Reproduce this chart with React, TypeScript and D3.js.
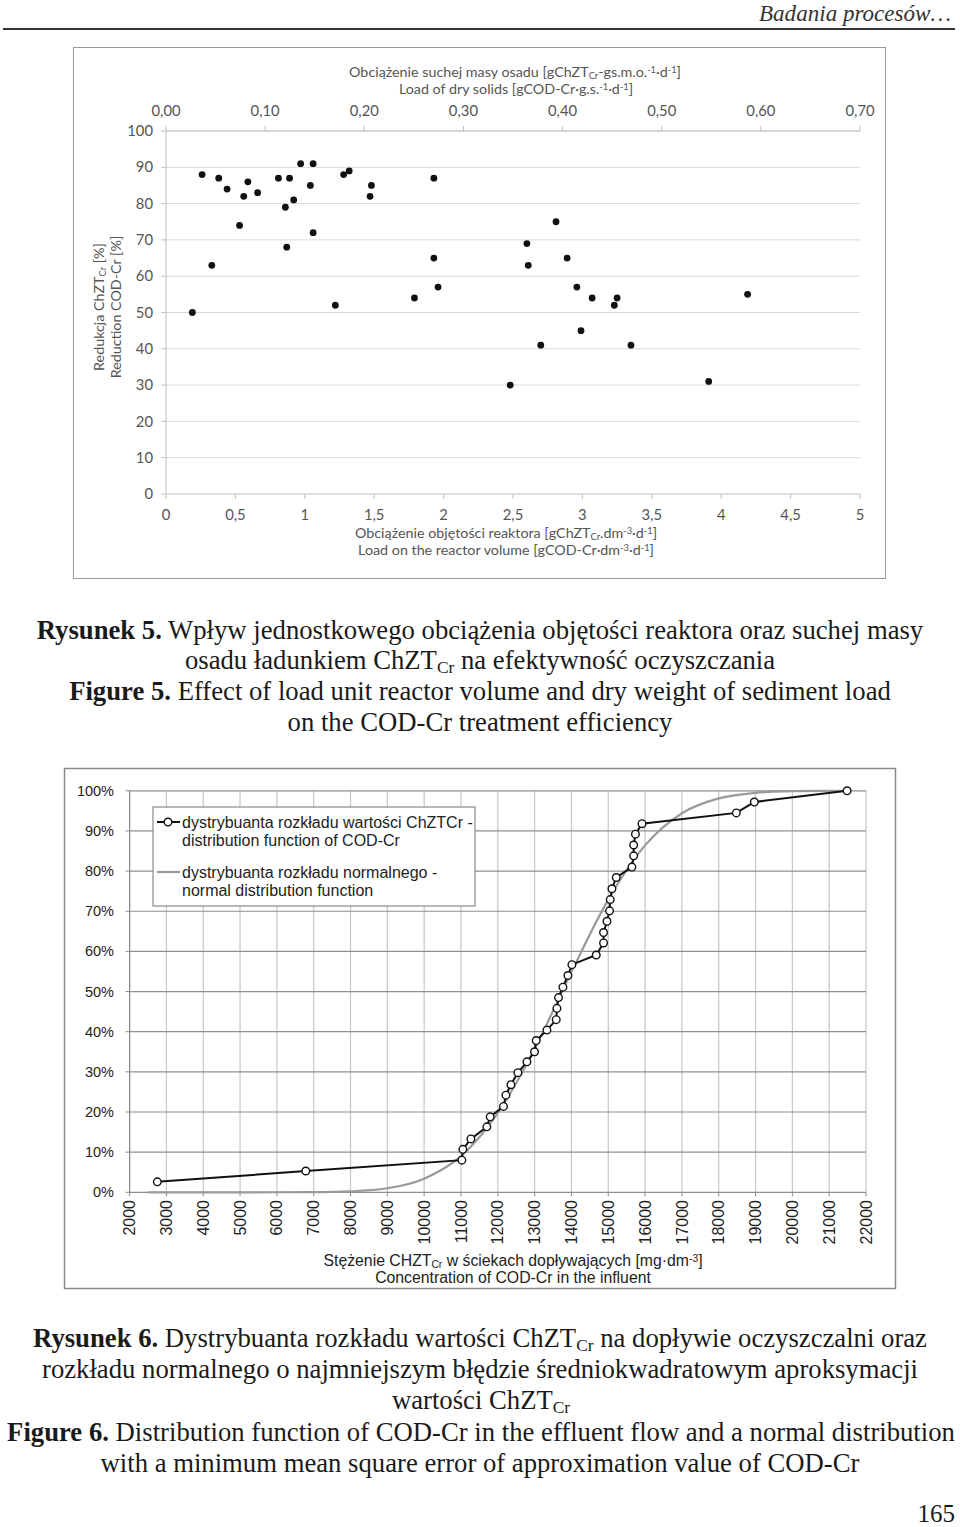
import React from 'react';
import * as d3 from 'd3';

// ---------- Figure 5 data ----------
const volumeLoad = [0.19, 0.26, 0.33, 0.38, 0.44, 0.53, 0.56, 0.59, 0.66, 0.81, 0.86, 0.87, 0.89, 0.92, 0.97, 1.04, 1.06, 1.06, 1.22, 1.28, 1.32, 1.47, 1.48, 1.79, 1.93, 1.93, 1.96, 2.48, 2.60, 2.61, 2.70, 2.81, 2.89, 2.96, 2.99, 3.07, 3.23, 3.25, 3.35, 3.91, 4.19];
const reduction = [50, 88, 63, 87, 84, 74, 82, 86, 83, 87, 79, 68, 87, 81, 91, 85, 91, 72, 52, 88, 89, 82, 85, 54, 87, 65, 57, 30, 69, 63, 41, 75, 65, 57, 45, 54, 52, 54, 41, 31, 55];
const volumeTicks = [0, 0.5, 1, 1.5, 2, 2.5, 3, 3.5, 4, 4.5, 5];
const solidsTicks = [0, 0.1, 0.2, 0.3, 0.4, 0.5, 0.6, 0.7];
const reductionTicks = [0, 10, 20, 30, 40, 50, 60, 70, 80, 90, 100];

// ---------- Figure 6 data ----------
const concentration = [2753, 6785, 11024, 11051, 11269, 11703, 11793, 12155, 12220, 12356, 12546, 12791, 12997, 13043, 13334, 13587, 13606, 13649, 13769, 13905, 14013, 14674, 14872, 14872, 14965, 15035, 15054, 15100, 15217, 15643, 15690, 15690, 15739, 15916, 18478, 18967, 21486];
const empiricalCdf = [2.6, 5.3, 8.0, 10.7, 13.3, 16.3, 18.8, 21.4, 24.2, 26.8, 29.8, 32.5, 35.0, 37.8, 40.4, 43.0, 45.8, 48.5, 51.1, 54.0, 56.7, 59.1, 62.1, 64.7, 67.5, 70.1, 72.9, 75.6, 78.4, 81.0, 83.8, 86.5, 89.2, 91.8, 94.5, 97.2, 100];
const normalX = [2500, 5000, 7000, 8000, 9000, 10000, 11000, 12000, 13000, 14000, 15000, 16000, 17000, 18000, 19000, 20000, 21000, 21486];
const normalCdf = [0, 0, 0.05, 0.25, 1.0, 3.4, 9.0, 19.7, 35.7, 54.9, 72.9, 86.4, 94.4, 98.1, 99.5, 99.9, 100, 100];
const concTicks = [2000, 3000, 4000, 5000, 6000, 7000, 8000, 9000, 10000, 11000, 12000, 13000, 14000, 15000, 16000, 17000, 18000, 19000, 20000, 21000, 22000];
const pctTicks = [0, 10, 20, 30, 40, 50, 60, 70, 80, 90, 100];

type Part = [string, ('sub' | 'sup' | 'b')?];

function Rich({ parts, fs, ...rest }: { parts: Part[]; fs: number; [k: string]: any }) {
  return (
    <text fontSize={fs} {...rest}>
      {parts.map(([t, k], i) =>
        k === 'sub' ? (
          <tspan key={i} fontSize={fs * 0.65} baselineShift="-22%">{t}</tspan>
        ) : k === 'sup' ? (
          <tspan key={i} fontSize={fs * 0.65} baselineShift="45%">{t}</tspan>
        ) : k === 'b' ? (
          <tspan key={i} fontWeight="bold">{t}</tspan>
        ) : (
          <tspan key={i}>{t}</tspan>
        )
      )}
    </text>
  );
}

const SERIF = '"Liberation Serif", "Times New Roman", serif';
const CAL = 'Lato, "Open Sans", sans-serif';
const ARIAL = '"Liberation Sans", Arial, sans-serif';

export default function App() {
  // Figure 5 scales
  const xV = d3.scaleLinear().domain([0, 5]).range([166, 860]);
  const xS = d3.scaleLinear().domain([0, 0.7]).range([166, 860]);
  const yR = d3.scaleLinear().domain([0, 100]).range([494, 131]);
  const fmtV = (v: number) => String(v).replace('.', ',');
  const fmtS = (v: number) => v.toFixed(2).replace('.', ',');

  // Figure 6 scales
  const xC = d3.scaleLinear().domain([2000, 22000]).range([129.6, 866]);
  const yP = d3.scaleLinear().domain([0, 100]).range([1192.3, 790.8]);
  const empLine = d3.line<number>().x((_, i) => xC(concentration[i])).y((d) => yP(d));
  const normLine = d3
    .line<number>()
    .x((_, i) => xC(normalX[i]))
    .y((d) => yP(d))
    .curve(d3.curveMonotoneX);

  const txt5 = '#555';
  const capFill = '#1a1a1a';
  const capFs = 26.7;
  const tf = 14.3; // top chart title font
  const tk = 14.8; // top chart tick font

  return (
    <svg
      width={960}
      height={1527}
      style={{ position: 'absolute', left: 0, top: 0, display: 'block', background: '#fff' }}
    >
      <rect x={0} y={0} width={960} height={1527} fill="#fff" />
      {/* header */}
      <text x={951} y={21} textAnchor="end" fontFamily={SERIF} fontStyle="italic" fontSize={23} fill="#333"
        textLength={192} lengthAdjust="spacingAndGlyphs">Badania procesów…</text>
      <line x1={3} x2={955} y1={29} y2={29} stroke="#333" strokeWidth={2} />

      {/* ================= Figure 5 ================= */}
      <rect x={73.5} y={47.5} width={812} height={531} fill="none" stroke="#9a9a9a" strokeWidth={1} />
      {reductionTicks.filter((t) => t > 0).map((t) => (
        <line key={'g' + t} x1={166} x2={860} y1={yR(t)} y2={yR(t)} stroke="#d9d9d9" strokeWidth={1} />
      ))}
      <line x1={166} x2={166} y1={yR(100)} y2={yR(0)} stroke="#bfbfbf" />
      <line x1={166} x2={860} y1={yR(0)} y2={yR(0)} stroke="#bfbfbf" />
      <line x1={166} x2={860} y1={yR(100)} y2={yR(100)} stroke="#bfbfbf" />
      {reductionTicks.map((t) => (
        <g key={'yl' + t}>
          <line x1={161} x2={166} y1={yR(t)} y2={yR(t)} stroke="#bfbfbf" />
          <text x={153} y={yR(t)} dy="0.35em" textAnchor="end" fontFamily={CAL} fontSize={tk} fill={txt5}>{t}</text>
        </g>
      ))}
      {volumeTicks.map((t) => (
        <g key={'xv' + t}>
          <line x1={xV(t)} x2={xV(t)} y1={494} y2={499} stroke="#bfbfbf" />
          <text x={xV(t)} y={515} dy="0.35em" textAnchor="middle" fontFamily={CAL} fontSize={tk} fill={txt5}>{fmtV(t)}</text>
        </g>
      ))}
      {solidsTicks.map((t) => (
        <g key={'xs' + t}>
          <line x1={xS(t)} x2={xS(t)} y1={126} y2={131} stroke="#bfbfbf" />
          <text x={xS(t)} y={111} dy="0.35em" textAnchor="middle" fontFamily={CAL} fontSize={tk} fill={txt5}>{fmtS(t)}</text>
        </g>
      ))}
      {volumeLoad.map((v, i) => (
        <circle key={'p' + i} cx={xV(v)} cy={yR(reduction[i])} r={3.4} fill="#111" />
      ))}
      <Rich x={515} y={76.5} textAnchor="middle" fontFamily={CAL} fs={tf} fill={txt5}
        parts={[['Obciążenie suchej masy osadu [gChZT'], ['Cr', 'sub'], ['-gs.m.o.'], ['-1', 'sup'], ['·d'], ['-1', 'sup'], [']']]} />
      <Rich x={516} y={93.5} textAnchor="middle" fontFamily={CAL} fs={tf} fill={txt5}
        parts={[['Load of dry solids [gCOD-Cr·g.s.'], ['-1', 'sup'], ['·d'], ['-1', 'sup'], [']']]} />
      <Rich x={506} y={538} textAnchor="middle" fontFamily={CAL} fs={tf} fill={txt5}
        parts={[['Obciążenie objętości reaktora [gChZT'], ['Cr', 'sub'], ['.dm'], ['-3', 'sup'], ['·d'], ['-1', 'sup'], [']']]} />
      <Rich x={506} y={555} textAnchor="middle" fontFamily={CAL} fs={tf} fill={txt5}
        parts={[['Load on the reactor volume [gCOD-Cr·dm'], ['-3', 'sup'], ['·d'], ['-1', 'sup'], [']']]} />
      <Rich transform="translate(104,307) rotate(-90)" x={0} y={0} textAnchor="middle" fontFamily={CAL} fs={tf} fill={txt5}
        parts={[['Redukcja ChZT'], ['Cr', 'sub'], [' [%]']]} />
      <Rich transform="translate(121,307) rotate(-90)" x={0} y={0} textAnchor="middle" fontFamily={CAL} fs={tf} fill={txt5}
        parts={[['Reduction COD-Cr [%]']]} />

      {/* caption 5 */}
      <g fontFamily={SERIF} fill={capFill}>
        <Rich x={480} y={639} textAnchor="middle" fs={capFs}
          parts={[['Rysunek 5.', 'b'], [' Wpływ jednostkowego obciążenia objętości reaktora oraz suchej masy']]} />
        <Rich x={480} y={669} textAnchor="middle" fs={capFs}
          parts={[['osadu ładunkiem ChZT'], ['Cr', 'sub'], [' na efektywność oczyszczania']]} />
        <Rich x={480} y={700} textAnchor="middle" fs={capFs}
          parts={[['Figure 5.', 'b'], [' Effect of load unit reactor volume and dry weight of sediment load']]} />
        <Rich x={480} y={731} textAnchor="middle" fs={capFs}
          parts={[['on the COD-Cr treatment efficiency']]} />
      </g>

      {/* ================= Figure 6 ================= */}
      <rect x={64.5} y={768.5} width={831} height={520} fill="none" stroke="#8a8a8a" strokeWidth={1.5} />
      {concTicks.map((t) => (
        <line key={'vg' + t} x1={xC(t)} x2={xC(t)} y1={yP(100)} y2={yP(0)} stroke="#c6c6c6" strokeWidth={1.2} />
      ))}
      {pctTicks.map((t) => (
        <line key={'hg' + t} x1={xC(2000)} x2={xC(22000)} y1={yP(t)} y2={yP(t)} stroke="#8f8f8f" strokeWidth={1.2} />
      ))}
      <line x1={xC(2000)} x2={xC(2000)} y1={yP(100)} y2={yP(0)} stroke="#8a8a8a" strokeWidth={1.2} />
      {pctTicks.map((t) => (
        <g key={'pl' + t}>
          <line x1={xC(2000) - 4} x2={xC(2000)} y1={yP(t)} y2={yP(t)} stroke="#8a8a8a" />
          <text x={114} y={yP(t)} dy="0.35em" textAnchor="end" fontFamily={ARIAL} fontSize={14.5} fill="#222">{t}%</text>
        </g>
      ))}
      {concTicks.map((t) => (
        <g key={'cl' + t}>
          <line x1={xC(t)} x2={xC(t)} y1={yP(0)} y2={yP(0) + 4} stroke="#8a8a8a" />
          <text transform={`translate(${xC(t)},1200) rotate(-90)`} dy="0.35em" textAnchor="end" fontFamily={ARIAL} fontSize={16} fill="#222">{t}</text>
        </g>
      ))}
      <path d={normLine(normalCdf) || ''} fill="none" stroke="#9a9a9a" strokeWidth={2.2} />
      <path d={empLine(empiricalCdf) || ''} fill="none" stroke="#111" strokeWidth={2} />
      {empiricalCdf.map((v, i) => (
        <circle key={'e' + i} cx={xC(concentration[i])} cy={yP(v)} r={3.8} fill="#fff" stroke="#111" strokeWidth={1.4} />
      ))}
      {/* legend */}
      <rect x={153} y={807} width={322} height={99} fill="#fff" stroke="#8a8a8a" strokeWidth={1.2} />
      <line x1={157} x2={180} y1={822} y2={822} stroke="#111" strokeWidth={2} />
      <circle cx={168} cy={822} r={3.8} fill="#fff" stroke="#111" strokeWidth={1.4} />
      <line x1={157} x2={180} y1={872} y2={872} stroke="#9a9a9a" strokeWidth={2.2} />
      <g fontFamily={ARIAL} fontSize={16} fill="#222">
        <text x={182} y={822} dy="0.35em">dystrybuanta rozkładu wartości ChZTCr -</text>
        <text x={182} y={840} dy="0.35em">distribution function of COD-Cr</text>
        <text x={182} y={872} dy="0.35em">dystrybuanta rozkładu normalnego -</text>
        <text x={182} y={890} dy="0.35em">normal distribution function</text>
      </g>
      <Rich x={513} y={1266} textAnchor="middle" fontFamily={ARIAL} fs={15.8} fill="#222"
        parts={[['Stężenie CHZT'], ['Cr', 'sub'], [' w ściekach dopływających [mg·dm'], ['-3', 'sup'], [']']]} />
      <Rich x={513} y={1283} textAnchor="middle" fontFamily={ARIAL} fs={15.8} fill="#222"
        parts={[['Concentration of COD-Cr in the influent']]} />

      {/* caption 6 */}
      <g fontFamily={SERIF} fill={capFill}>
        <Rich x={480} y={1347} textAnchor="middle" fs={capFs}
          parts={[['Rysunek 6.', 'b'], [' Dystrybuanta rozkładu wartości ChZT'], ['Cr', 'sub'], [' na dopływie oczyszczalni oraz']]} />
        <Rich x={480} y={1378} textAnchor="middle" fs={capFs}
          parts={[['rozkładu normalnego o najmniejszym błędzie średniokwadratowym aproksymacji']]} />
        <Rich x={481} y={1409} textAnchor="middle" fs={capFs}
          parts={[['wartości ChZT'], ['Cr', 'sub']]} />
        <Rich x={481} y={1441} textAnchor="middle" fs={capFs}
          parts={[['Figure 6.', 'b'], [' Distribution function of COD-Cr in the effluent flow and a normal distribution']]} />
        <Rich x={480} y={1472} textAnchor="middle" fs={capFs}
          parts={[['with a minimum mean square error of approximation value of COD-Cr']]} />
      </g>
      <text x={955} y={1522} textAnchor="end" fontFamily={SERIF} fontSize={25} fill={capFill}>165</text>
    </svg>
  );
}
